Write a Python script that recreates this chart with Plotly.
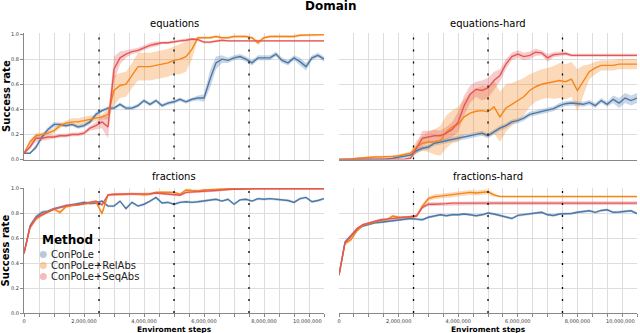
import plotly.graph_objects as go

# evaluation checkpoints, every 200k environment steps
steps = list(range(0, 10_000_001, 200_000))

domains = ["equations", "equations-hard", "fractions", "fractions-hard"]
methods = ["ConPoLe", "ConPoLe+RelAbs", "ConPoLe+SeqAbs"]
colors = ["#4c78a8", "#f58518", "#e45756"]
band_colors = ["rgba(76,120,168,0.3)", "rgba(245,133,24,0.3)", "rgba(228,87,86,0.3)"]
phase_steps = [2_500_000, 5_000_000, 7_500_000]

# ---- equations
eq_conpole = [0.05, 0.05, 0.10, 0.18, 0.24, 0.28, 0.28, 0.27, 0.28, 0.26,
              0.27, 0.30, 0.36, 0.39, 0.41, 0.41, 0.44, 0.41, 0.41, 0.43,
              0.47, 0.44, 0.47, 0.43, 0.45, 0.46, 0.48, 0.46, 0.48, 0.49,
              0.49, 0.64, 0.77, 0.80, 0.79, 0.81, 0.82, 0.80, 0.77, 0.81,
              0.81, 0.81, 0.84, 0.79, 0.77, 0.81, 0.78, 0.74, 0.81, 0.83,
              0.80]
eq_conpole_err = [.005, .005, .02, .02, .02, .02, .015, .015, .015, .015,
                  .015, .02, .02, .015, .015, .015, .015, .015, .015, .015,
                  .015, .015, .015, .015, .015, .015, .015, .015, .015, .02,
                  .03, .07, .05, .03, .02, .02, .02, .02, .02, .02,
                  .02, .02, .02, .02, .02, .02, .03, .03, .02, .02,
                  .02]
eq_relabs = [0.05, 0.14, 0.19, 0.20, 0.21, 0.23, 0.27, 0.29, 0.30, 0.30,
             0.31, 0.32, 0.33, 0.34, 0.36, 0.55, 0.59, 0.60, 0.67, 0.74,
             0.74, 0.74, 0.75, 0.76, 0.77, 0.79, 0.80, 0.82, 0.88, 0.97,
             0.97, 0.97, 0.98, 0.97, 0.97, 0.98, 0.98, 0.98, 0.97, 0.93,
             0.97, 0.98, 0.98, 0.98, 0.98, 0.98, 0.99, 0.99, 0.99, 0.99,
             0.995]
eq_relabs_err = [.005, .02, .02, .015, .015, .02, .02, .02, .03, .03,
                 .03, .03, .02, .02, .04, .12, .10, .10, .10, .11,
                 .11, .11, .11, .11, .11, .11, .12, .12, .08, .01,
                 .01, .01, .01, .01, .01, .01, .01, .01, .01, .02,
                 .01, .01, .01, .01, .01, .01, .01, .01, .01, .01,
                 .01]
eq_seqabs = [0.05, 0.10, 0.17, 0.17, 0.18, 0.18, 0.19, 0.19, 0.20, 0.20,
             0.21, 0.25, 0.27, 0.30, 0.26, 0.72, 0.81, 0.84, 0.86, 0.87,
             0.89, 0.91, 0.92, 0.93, 0.93, 0.94, 0.945, 0.95, 0.96, 0.955,
             0.935, 0.935, 0.945, 0.95, 0.945, 0.945, 0.945, 0.945, 0.945, 0.945,
             0.945, 0.945, 0.945, 0.945, 0.945, 0.945, 0.945, 0.945, 0.945, 0.945,
             0.945]
eq_seqabs_err = [.005, .02, .03, .02, .02, .015, .015, .015, .015, .015,
                 .015, .02, .03, .05, .09, .10, .05, .03, .02, .02,
                 .02, .02, .02, .01, .01, .01, .01, .01, .01, .01,
                 .01, .01, .01, .007, .007, .007, .007, .007, .007, .007,
                 .007, .007, .007, .007, .007, .007, .007, .007, .007, .007,
                 .007]

# ---- equations-hard
eqh_conpole = [0.0, 0.0, 0.0, 0.0, 0.0, 0.0, 0.0, 0.003, 0.005, 0.01,
               0.02, 0.025, 0.035, 0.07, 0.09, 0.10, 0.13, 0.14, 0.15, 0.165,
               0.175, 0.185, 0.19, 0.20, 0.21, 0.19, 0.22, 0.25, 0.27, 0.30,
               0.31, 0.33, 0.36, 0.37, 0.38, 0.39, 0.405, 0.43, 0.445, 0.45,
               0.445, 0.44, 0.455, 0.43, 0.47, 0.44, 0.48, 0.45, 0.49, 0.47,
               0.49]
eqh_conpole_err = [.003, .003, .003, .003, .003, .003, .003, .003, .005, .005,
                   .015, .015, .015, .02, .02, .02, .02, .02, .02, .02,
                   .02, .02, .02, .02, .02, .02, .02, .02, .02, .02,
                   .02, .02, .02, .02, .02, .02, .02, .02, .02, .02,
                   .02, .02, .02, .02, .02, .02, .03, .04, .04, .04,
                   .04]
eqh_relabs = [0.0, 0.0, 0.005, 0.01, 0.015, 0.017, 0.02, 0.02, 0.02, 0.025,
              0.03, 0.04, 0.05, 0.10, 0.13, 0.14, 0.14, 0.15, 0.22, 0.26,
              0.28, 0.34, 0.37, 0.385, 0.39, 0.38, 0.42, 0.34, 0.41, 0.44,
              0.47, 0.50, 0.55, 0.58, 0.60, 0.61, 0.615, 0.63, 0.62, 0.64,
              0.55, 0.63, 0.70, 0.73, 0.75, 0.75, 0.75, 0.76, 0.76, 0.76,
              0.76]
eqh_relabs_err = [.003, .003, .005, .005, .01, .01, .01, .01, .01, .01,
                  .01, .01, .015, .05, .06, .08, .10, .12, .13, .13,
                  .14, .14, .16, .18, .20, .20, .21, .20, .19, .17,
                  .16, .15, .13, .12, .12, .12, .13, .14, .14, .14,
                  .17, .12, .06, .05, .04, .04, .04, .04, .04, .04,
                  .04]
eqh_seqabs = [0.0, 0.0, 0.0, 0.0, 0.0, 0.003, 0.005, 0.005, 0.003, 0.0,
              0.0, 0.003, 0.01, 0.09, 0.17, 0.18, 0.19, 0.19, 0.21, 0.24,
              0.30, 0.43, 0.52, 0.56, 0.55, 0.57, 0.63, 0.67, 0.76, 0.82,
              0.84, 0.82, 0.83, 0.855, 0.85, 0.81, 0.835, 0.84, 0.845, 0.83,
              0.83, 0.83, 0.83, 0.83, 0.83, 0.83, 0.83, 0.83, 0.83, 0.83,
              0.83]
eqh_seqabs_err = [.003, .003, .003, .003, .003, .003, .003, .003, .003, .003,
                  .003, .005, .01, .04, .06, .05, .05, .04, .05, .06,
                  .08, .08, .07, .06, .08, .08, .07, .05, .04, .03,
                  .03, .03, .03, .03, .02, .03, .02, .02, .015, .012,
                  .012, .012, .012, .012, .012, .012, .012, .012, .012, .012,
                  .012]

# ---- fractions
fr_conpole = [0.48, 0.70, 0.77, 0.81, 0.82, 0.84, 0.85, 0.86, 0.87, 0.885,
              0.89, 0.88, 0.885, 0.90, 0.86, 0.86, 0.90, 0.84, 0.89, 0.86,
              0.875, 0.90, 0.93, 0.885, 0.89, 0.875, 0.89, 0.895, 0.89, 0.895,
              0.90, 0.91, 0.915, 0.90, 0.915, 0.875, 0.91, 0.915, 0.90, 0.92,
              0.915, 0.92, 0.915, 0.91, 0.905, 0.89, 0.92, 0.93, 0.895, 0.905,
              0.92]
fr_conpole_err = [.01, .02, .02, .015, .01, .01, .01, .01, .01, .01,
                  .01, .01, .01, .01, .01, .01, .01, .01, .01, .01,
                  .01, .01, .01, .01, .01, .01, .01, .01, .01, .01,
                  .01, .01, .01, .01, .01, .01, .01, .01, .01, .01,
                  .01, .01, .01, .01, .01, .01, .01, .01, .01, .01,
                  .01]
fr_relabs = [0.48, 0.69, 0.76, 0.795, 0.815, 0.835, 0.81, 0.855, 0.865, 0.87,
             0.875, 0.885, 0.894, 0.80, 0.95, 0.95, 0.955, 0.955, 0.96, 0.955,
             0.95, 0.955, 0.97, 0.972, 0.974, 0.97, 0.955, 0.99, 0.985, 0.982,
             0.99, 0.993, 0.997, 1.0, 1.0, 1.0, 1.0, 1.0, 1.0, 1.0,
             1.0, 1.0, 1.0, 1.0, 1.0, 1.0, 1.0, 1.0, 1.0, 1.0,
             1.0]
fr_relabs_err = [.01, .02, .02, .015, .01, .01, .015, .01, .01, .01,
                 .01, .01, .01, .02, .01, .01, .01, .01, .01, .01,
                 .01, .01, .01, .01, .01, .01, .01, .01, .01, .01,
                 .005, .005, .003, .002, .002, .002, .002, .002, .002, .002,
                 .002, .002, .002, .002, .002, .002, .002, .002, .002, .002,
                 .002]
fr_seqabs = [0.48, 0.69, 0.765, 0.79, 0.815, 0.835, 0.85, 0.865, 0.87, 0.87,
             0.88, 0.89, 0.90, 0.87, 0.95, 0.955, 0.955, 0.955, 0.955, 0.955,
             0.96, 0.96, 0.965, 0.96, 0.96, 0.955, 0.947, 0.97, 0.972, 0.974,
             0.975, 0.98, 0.985, 0.99, 0.995, 0.995, 0.995, 0.998, 1.0, 1.0,
             1.0, 1.0, 1.0, 1.0, 1.0, 1.0, 1.0, 1.0, 1.0, 1.0,
             1.0]
fr_seqabs_err = [.01, .02, .02, .015, .01, .01, .01, .01, .01, .01,
                 .01, .01, .01, .015, .01, .01, .01, .01, .01, .01,
                 .01, .01, .01, .01, .01, .01, .01, .01, .01, .01,
                 .01, .01, .01, .01, .005, .005, .005, .003, .002, .002,
                 .002, .002, .002, .002, .002, .002, .002, .002, .002, .002,
                 .002]

# ---- fractions-hard
frh_conpole = [0.305, 0.57, 0.62, 0.67, 0.70, 0.715, 0.725, 0.73, 0.735, 0.745,
               0.75, 0.755, 0.76, 0.755, 0.75, 0.77, 0.78, 0.79, 0.783, 0.79,
               0.79, 0.796, 0.79, 0.783, 0.79, 0.804, 0.796, 0.783, 0.77, 0.76,
               0.785, 0.79, 0.796, 0.80, 0.81, 0.79, 0.785, 0.796, 0.796, 0.80,
               0.81, 0.815, 0.822, 0.81, 0.825, 0.83, 0.81, 0.812, 0.815, 0.822,
               0.80]
frh_conpole_err = [.01, .015, .015, .01, .01, .01, .01, .01, .01, .01,
                   .01, .01, .01, .01, .01, .01, .01, .01, .01, .01,
                   .01, .01, .01, .01, .01, .01, .01, .01, .01, .01,
                   .01, .01, .01, .01, .01, .01, .01, .01, .01, .01,
                   .01, .01, .01, .01, .01, .01, .01, .01, .01, .01,
                   .01]
frh_relabs = [0.305, 0.56, 0.59, 0.66, 0.705, 0.72, 0.735, 0.745, 0.75, 0.78,
              0.77, 0.77, 0.77, 0.78, 0.86, 0.92, 0.935, 0.94, 0.945, 0.955,
              0.96, 0.965, 0.97, 0.965, 0.97, 0.975, 0.95, 0.937, 0.937, 0.937,
              0.937, 0.937, 0.937, 0.937, 0.937, 0.937, 0.937, 0.937, 0.937, 0.937,
              0.937, 0.937, 0.937, 0.937, 0.937, 0.937, 0.937, 0.937, 0.937, 0.937,
              0.937]
frh_relabs_err = [.01, .015, .015, .01, .01, .01, .01, .01, .01, .01,
                  .01, .01, .01, .015, .02, .02, .02, .02, .02, .02,
                  .02, .02, .02, .02, .02, .02, .015, .005, .005, .005,
                  .005, .005, .005, .005, .005, .005, .005, .005, .005, .005,
                  .005, .005, .005, .005, .005, .005, .005, .005, .005, .005,
                  .005]
frh_seqabs = [0.305, 0.565, 0.62, 0.68, 0.71, 0.725, 0.74, 0.75, 0.755, 0.76,
              0.77, 0.772, 0.777, 0.78, 0.85, 0.875, 0.875, 0.876, 0.88, 0.884,
              0.884, 0.884, 0.884, 0.884, 0.884, 0.884, 0.884, 0.884, 0.884, 0.884,
              0.884, 0.884, 0.884, 0.884, 0.884, 0.884, 0.884, 0.884, 0.884, 0.884,
              0.884, 0.884, 0.884, 0.884, 0.884, 0.884, 0.884, 0.884, 0.884, 0.884,
              0.884]
frh_seqabs_err = [.01, .015, .015, .01, .01, .01, .01, .01, .01, .01,
                  .01, .01, .01, .01, .015, .015, .015, .015, .015, .015,
                  .015, .015, .015, .015, .015, .015, .015, .015, .015, .015,
                  .015, .015, .015, .015, .015, .015, .015, .015, .015, .015,
                  .015, .015, .015, .015, .015, .015, .015, .015, .015, .015,
                  .015]

panels = [
    [(eq_conpole, eq_conpole_err), (eq_relabs, eq_relabs_err), (eq_seqabs, eq_seqabs_err)],
    [(eqh_conpole, eqh_conpole_err), (eqh_relabs, eqh_relabs_err), (eqh_seqabs, eqh_seqabs_err)],
    [(fr_conpole, fr_conpole_err), (fr_relabs, fr_relabs_err), (fr_seqabs, fr_seqabs_err)],
    [(frh_conpole, frh_conpole_err), (frh_relabs, frh_relabs_err), (frh_seqabs, frh_seqabs_err)],
]
axes = [("x", "y"), ("x2", "y2"), ("x3", "y3"), ("x4", "y4")]

FONT = "DejaVu Sans"
fig = go.Figure()

for (xa, ya), series in zip(axes, panels):
    # error bands
    for (mean, err), bc in zip(series, band_colors):
        lo = [max(0.0, m - e) for m, e in zip(mean, err)]
        hi = [min(1.0, m + e) for m, e in zip(mean, err)]
        fig.add_trace(go.Scatter(x=steps, y=lo, xaxis=xa, yaxis=ya, mode="lines",
                                 line=dict(width=0), hoverinfo="skip", showlegend=False))
        fig.add_trace(go.Scatter(x=steps, y=hi, xaxis=xa, yaxis=ya, mode="lines",
                                 line=dict(width=0), fill="tonexty", fillcolor=bc,
                                 hoverinfo="skip", showlegend=False))
    # mean curves
    for (mean, err), name, c in zip(series, methods, colors):
        fig.add_trace(go.Scatter(x=steps, y=mean, xaxis=xa, yaxis=ya, mode="lines",
                                 name=name, line=dict(color=c, width=1.4), showlegend=False))
    # curriculum phase markers
    for p in phase_steps:
        fig.add_trace(go.Scatter(x=[p, p], y=[0, 1], xaxis=xa, yaxis=ya, mode="lines",
                                 line=dict(color="black", width=1.3, dash="2px,10px"),
                                 hoverinfo="skip", showlegend=False))

xticks = list(range(0, 10_000_001, 500_000))
xtext = ["{:,}".format(v) if v % 2_000_000 == 0 and 0 < v < 10_000_000 else ("0" if v == 0 else "")
         for v in xticks]

left_dom = [0, 0.4894]
right_dom = [0.5139, 1]
top_dom = [0.548, 1]
bot_dom = [0, 0.4475]

def xaxis(dom, anchor, labels):
    return dict(domain=dom, anchor=anchor, range=[0, 10_000_000], tickvals=xticks,
                ticktext=xtext if labels else None, showticklabels=labels,
                ticks="outside" if labels else "", ticklen=3, tickcolor="#888",
                tickfont=dict(size=5, color="#333", family=FONT),
                showgrid=True, gridcolor="#dddddd", gridwidth=1, zeroline=False,
                showline=True, linecolor="#888", linewidth=1)

def yaxis(dom, anchor, labels):
    return dict(domain=dom, anchor=anchor, range=[0, 1.008], tickvals=[0, 0.2, 0.4, 0.6, 0.8, 1.0],
                ticktext=["0.0", "0.2", "0.4", "0.6", "0.8", "1.0"], showticklabels=labels,
                ticks="outside" if labels else "", ticklen=3, tickcolor="#888",
                tickfont=dict(size=5, color="#333", family=FONT),
                showgrid=True, gridcolor="#dddddd", gridwidth=1, zeroline=False,
                showline=labels, linecolor="#888", linewidth=1)

def label(text, x, y, size, xanchor="center", **kw):
    return dict(text=text, x=x, y=y, xref=kw.pop("xref", "paper"), yref="paper",
                xanchor=xanchor, yanchor=kw.pop("yanchor", "middle"), showarrow=False,
                font=dict(size=size, family=FONT, color=kw.pop("color", "black")), **kw)

annotations = []
# super title
annotations.append(label("<b>Domain</b>", 0.5, 1.096, 12))
# facet titles
for name, xd, yp in zip(domains, [left_dom, right_dom, left_dom, right_dom],
                        [1.034, 1.034, 0.489, 0.489]):
    annotations.append(label(name, (xd[0] + xd[1]) / 2, yp, 10))
# axis titles
for yp in [0.775, 0.2232]:
    annotations.append(label("<b>Success rate</b>", -0.0295, yp, 10, textangle=-90,
                             borderpad=0))
for xd in [left_dom, right_dom]:
    annotations.append(label("<b>Enviroment steps</b>", (xd[0] + xd[1]) / 2, -0.059, 7.5))
# last x tick label flush to the right end of the axis
for xa in ["x3", "x4"]:
    annotations.append(label("{:,}".format(xticks[-1]), xticks[-1], 0, 5, xanchor="right",
                             xref=xa, yanchor="top", yshift=-3, color="#333"))

# legend (drawn by hand so the rows are as tight as the original)
shapes = []
annotations.append(label("<b>Method</b>", 0.0253, 0.259, 12, xanchor="left"))
for i, (name, bc) in enumerate(zip(methods, band_colors)):
    yp = 0.2089 - i * 0.0393
    shapes.append(dict(type="circle", xref="paper", yref="paper", xsizemode="pixel",
                       ysizemode="pixel", xanchor=0.0315, yanchor=yp, x0=-3.5, x1=3.5,
                       y0=-3.5, y1=3.5, fillcolor=bc.replace("0.3)", "0.4)"), line=dict(width=0)))
    annotations.append(label(name, 0.0415, yp, 10, xanchor="left", color="#222"))

fig.update_layout(
    width=640, height=333,
    margin=dict(l=24, r=3, t=33, b=20),
    plot_bgcolor="white", paper_bgcolor="white",
    font=dict(family=FONT),
    showlegend=False,
    xaxis=xaxis(left_dom, "y", False),
    xaxis2=xaxis(right_dom, "y2", False),
    xaxis3=xaxis(left_dom, "y3", True),
    xaxis4=xaxis(right_dom, "y4", True),
    yaxis=yaxis(top_dom, "x", True),
    yaxis2=yaxis(top_dom, "x2", False),
    yaxis3=yaxis(bot_dom, "x3", True),
    yaxis4=yaxis(bot_dom, "x4", False),
    annotations=annotations,
    shapes=shapes,
)

# the page body has a default 8px margin; drop it so the figure fills the window
fig.write_html("out.html", config={"displayModeBar": False},
               post_script="document.body.style.margin='0';document.body.style.overflow='hidden';")
